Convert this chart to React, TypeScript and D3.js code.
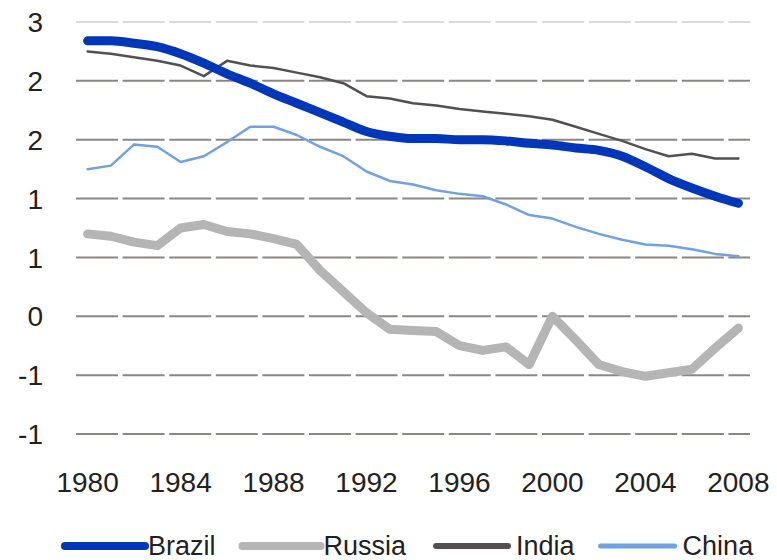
import React, { useEffect, useRef } from 'react';
import * as d3 from 'd3';

// years on the category axis
const years = d3.range(1980, 2009);
const xTickYears = [1980, 1984, 1988, 1992, 1996, 2000, 2004, 2008];
const yTicks = [-1, -0.5, 0, 0.5, 1, 1.5, 2, 2.5];

const brazil = [2.34, 2.34, 2.32, 2.29, 2.23, 2.15, 2.06, 1.98, 1.89, 1.81, 1.73, 1.65, 1.57, 1.53, 1.51, 1.51, 1.5, 1.5, 1.49, 1.47, 1.455, 1.43, 1.41, 1.36, 1.27, 1.17, 1.09, 1.02, 0.96];
const russia = [0.7, 0.68, 0.63, 0.6, 0.75, 0.78, 0.72, 0.7, 0.66, 0.61, 0.39, 0.21, 0.03, -0.11, -0.12, -0.13, -0.25, -0.29, -0.26, -0.41, 0.0, -0.2, -0.41, -0.47, -0.51, -0.48, -0.45, -0.27, -0.1];
const india = [2.25, 2.23, 2.2, 2.17, 2.13, 2.04, 2.17, 2.13, 2.11, 2.07, 2.03, 1.98, 1.87, 1.85, 1.81, 1.79, 1.76, 1.74, 1.72, 1.7, 1.67, 1.61, 1.55, 1.49, 1.42, 1.36, 1.38, 1.34, 1.34];
const china = [1.25, 1.28, 1.46, 1.44, 1.31, 1.36, 1.48, 1.61, 1.61, 1.54, 1.44, 1.36, 1.23, 1.15, 1.12, 1.07, 1.04, 1.02, 0.95, 0.86, 0.83, 0.76, 0.7, 0.65, 0.61, 0.6, 0.57, 0.53, 0.51];

const seriesNames = ['Brazil', 'Russia', 'India', 'China'];
const seriesValues = [brazil, russia, india, china];
const seriesColors = ['#0036b8', '#b5b5b5', '#525050', '#70a2e0'];
const seriesWidths = [9, 9, 2.5, 2.5];
const legendWidths = [8, 8, 6, 5];

const App = () => {
  const svgRef = useRef<SVGSVGElement>(null);

  useEffect(() => {
    document.body.style.margin = '0';
    const svg = d3.select(svgRef.current);
    svg.selectAll('*').remove();

    const width = 777;
    const height = 560;
    const font = '"Liberation Sans", Arial, sans-serif';

    // band scale = excel category axis, points at band centres
    const xBand = d3.scaleBand<number>().domain(years).range([76, 750]);
    const x = (yr: number) => (xBand(yr) as number) + xBand.bandwidth() / 2;
    const y = d3.scaleLinear().domain([-1, 2.5]).range([434, 22]);

    const roundLabel = (v: number) => {
      const r = Math.sign(v) * Math.round(Math.abs(v));
      return r === 0 ? '0' : String(r);
    };

    // gridlines
    svg
      .append('g')
      .selectAll('line')
      .data(yTicks)
      .enter()
      .append('line')
      .attr('x1', 76)
      .attr('x2', 750)
      .attr('y1', d => y(d))
      .attr('y2', d => y(d))
      .attr('stroke', d => (d === 2.5 ? '#b8b8b8' : '#8a8785'))
      .attr('stroke-width', d => (d === 2.5 ? 1.2 : 2))
      .attr('stroke-dasharray', '42,4.6');

    // y labels
    svg
      .append('g')
      .selectAll('text')
      .data(yTicks)
      .enter()
      .append('text')
      .attr('x', 43)
      .attr('y', d => y(d))
      .attr('dy', '0.36em')
      .attr('text-anchor', 'end')
      .style('font-family', font)
      .style('font-size', '28px')
      .attr('fill', '#222')
      .text(d => roundLabel(d));

    // x labels
    svg
      .append('g')
      .selectAll('text')
      .data(xTickYears)
      .enter()
      .append('text')
      .attr('x', d => x(d))
      .attr('y', 492)
      .attr('text-anchor', 'middle')
      .style('font-family', font)
      .style('font-size', '28px')
      .attr('fill', '#222')
      .text(d => d);

    // lines - draw thin ones first so the thick ones sit on top like the original
    const order = [3, 2, 1, 0];
    order.forEach(i => {
      const line = d3
        .line<number>()
        .x((_, j) => x(years[j]))
        .y(d => y(d))
        .curve(i === 0 ? d3.curveMonotoneX : d3.curveLinear);
      svg
        .append('path')
        .datum(seriesValues[i])
        .attr('d', line)
        .attr('fill', 'none')
        .attr('stroke', seriesColors[i])
        .attr('stroke-width', seriesWidths[i])
        .attr('stroke-linecap', 'round')
        .attr('stroke-linejoin', 'round');
    });

    // legend, laid out left to right
    const legend = svg.append('g');
    let cx = 65;
    const gaps = [27, 30, 26];
    seriesNames.forEach((name, i) => {
      const lineLen = [80, 78, 72, 74][i];
      legend
        .append('line')
        .attr('x1', cx)
        .attr('x2', cx + lineLen)
        .attr('y1', 546)
        .attr('y2', 546)
        .attr('stroke', seriesColors[i])
        .attr('stroke-width', legendWidths[i])
        .attr('stroke-linecap', 'round');
      const t = legend
        .append('text')
        .attr('x', cx + lineLen + (i < 2 ? 3 : 8))
        .attr('y', 555)
        .style('font-family', font)
        .style('font-size', '27px')
        .attr('fill', '#222')
        .text(name);
      const tw = (t.node() as SVGTextElement).getComputedTextLength();
      cx = cx + lineLen + (i < 2 ? 3 : 8) + tw + (gaps[i] || 0);
    });

    svg.attr('width', width).attr('height', height);
    return () => {
      svg.selectAll('*').remove();
    };
  }, []);

  return <svg ref={svgRef} width={777} height={560} style={{ display: 'block', background: '#fff' }} />;
};

export default App;
